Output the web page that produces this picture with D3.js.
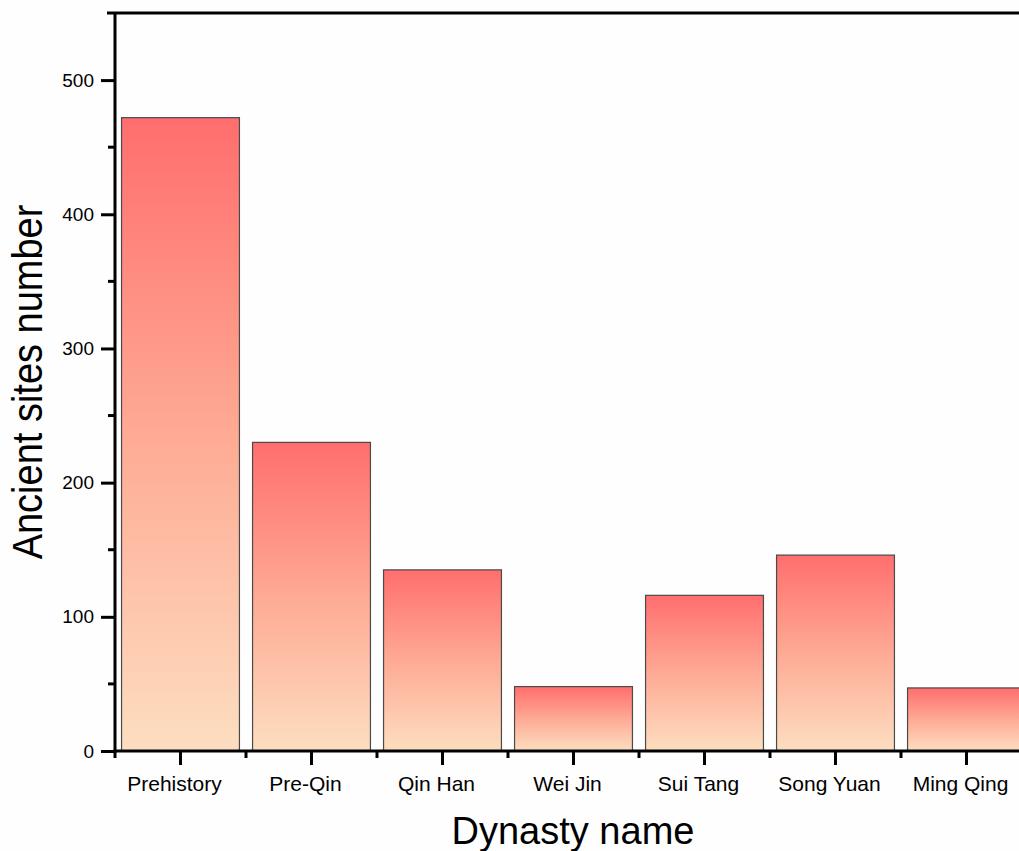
<!DOCTYPE html>
<html>
<head>
<meta charset="utf-8">
<script src="https://cdn.jsdelivr.net/npm/d3@7"></script>
<style>
  html, body { margin: 0; padding: 0; background: #fefefe; }
  svg { display: block; }
  text { font-family: "Liberation Sans", Arial, sans-serif; fill: #000; }
</style>
</head>
<body>
<svg id="chart" width="1019" height="851"></svg>
<script>
// Ancient sites counted per dynasty period
const dynasties = ["Prehistory", "Pre-Qin", "Qin Han", "Wei Jin", "Sui Tang", "Song Yuan", "Ming Qing"];
const siteCounts = [472, 230, 135, 48, 116, 146, 47];
const yTicks = [0, 100, 200, 300, 400, 500];
const yMinorTicks = [50, 150, 250, 350, 450];

const svg = d3.select("#chart");
const W = 1019, H = 851;

// plot frame
const plotLeft = 115, plotTop = 13, plotBottom = 751;
const step = 131;
const plotRight = plotLeft + step * dynasties.length;

const x = d3.scaleBand().domain(dynasties).range([plotLeft, plotRight]).padding(0);
const y = d3.scaleLinear().domain([0, 550]).range([plotBottom, plotTop]);

// vertical gradient shared by every bar (red at the top fading to peach)
const defs = svg.append("defs");
const grad = defs.append("linearGradient")
  .attr("id", "barFill")
  .attr("x1", 0).attr("y1", 0).attr("x2", 0).attr("y2", 1);
grad.append("stop").attr("offset", "0%").attr("stop-color", "#ff6e6e");
grad.append("stop").attr("offset", "50%").attr("stop-color", "#feaa94");
grad.append("stop").attr("offset", "100%").attr("stop-color", "#fddec0");

// bars
const barW = x.bandwidth() * 0.9;
svg.append("g").selectAll("rect")
  .data(dynasties.map((d, i) => ({ name: d, value: siteCounts[i] })))
  .join("rect")
  .attr("x", d => x(d.name) + (x.bandwidth() - barW) / 2)
  .attr("y", d => y(d.value))
  .attr("width", barW)
  .attr("height", d => y(0) - y(d.value))
  .attr("fill", "url(#barFill)")
  .attr("stroke", "#4a4a4a")
  .attr("stroke-width", 1.2);

// top frame line
svg.append("line")
  .attr("x1", plotLeft - 8).attr("x2", W)
  .attr("y1", plotTop).attr("y2", plotTop)
  .attr("stroke", "#000").attr("stroke-width", 3);

// y axis
const yAxis = d3.axisLeft(y).tickValues(yTicks).tickSize(14).tickPadding(7).tickSizeOuter(0);
const gy = svg.append("g").attr("transform", `translate(${plotLeft},0)`).call(yAxis);
gy.select(".domain").attr("stroke-width", 3).attr("d", `M0,${plotTop}V${plotBottom + 1.5}`);
gy.selectAll(".tick line").attr("stroke-width", 3);
gy.selectAll(".tick text").style("font-size", "19px");
gy.selectAll(".minor").data(yMinorTicks).join("line")
  .attr("class", "minor")
  .attr("x1", -7).attr("x2", 0)
  .attr("y1", d => y(d)).attr("y2", d => y(d))
  .attr("stroke", "#000").attr("stroke-width", 3);

// x axis: major ticks at category centres, minor ticks on category edges
const xAxis = d3.axisBottom(x).tickSize(14).tickPadding(11).tickSizeOuter(0);
const gx = svg.append("g").attr("transform", `translate(0,${plotBottom})`).call(xAxis);
gx.select(".domain").attr("stroke-width", 3).attr("d", `M${plotLeft - 1.5},0H${W + 20}`);
gx.selectAll(".tick line").attr("stroke-width", 3);
gx.selectAll(".tick text").style("font-size", "21px").attr("dx", -6);
const edges = d3.range(dynasties.length + 1).map(i => plotLeft + i * step);
gx.selectAll(".minor").data(edges).join("line")
  .attr("class", "minor")
  .attr("x1", d => d).attr("x2", d => d)
  .attr("y1", 0).attr("y2", 7)
  .attr("stroke", "#000").attr("stroke-width", 3);

// axis titles
svg.append("text")
  .attr("x", 573).attr("y", 844)
  .attr("text-anchor", "middle")
  .style("font-size", "38px")
  .text("Dynasty name");

svg.append("text")
  .attr("transform", "translate(42,382) rotate(-90) scale(1,1.12)")
  .attr("text-anchor", "middle")
  .style("font-size", "38px")
  .text("Ancient sites number");
</script>
</body>
</html>
